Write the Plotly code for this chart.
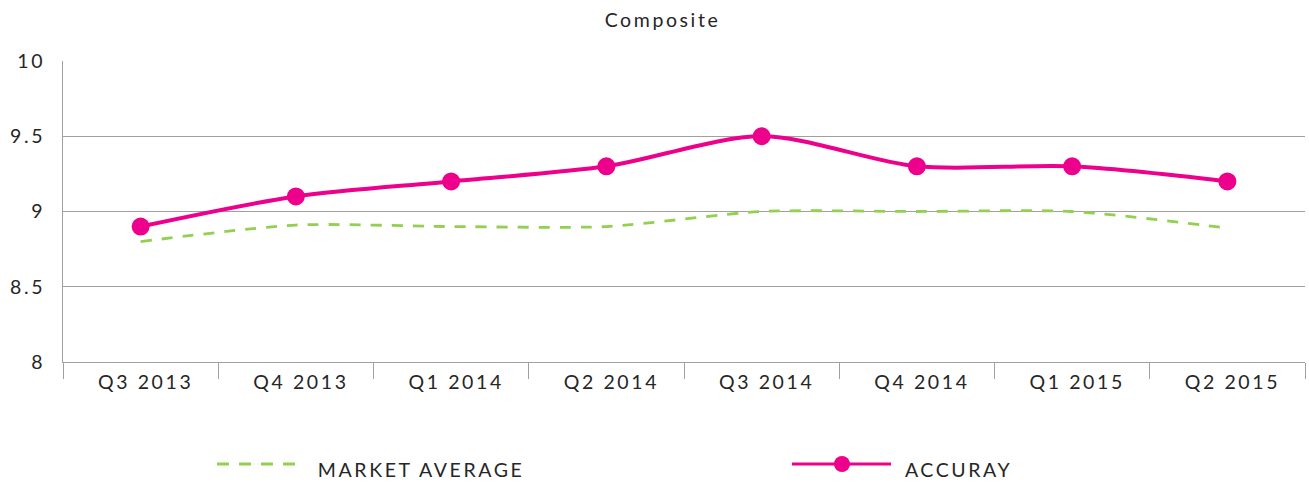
import plotly.graph_objects as go

categories = ["Q3 2013", "Q4 2013", "Q1 2014", "Q2 2014", "Q3 2014", "Q4 2014", "Q1 2015", "Q2 2015"]
market_average = [8.8, 8.91, 8.9, 8.9, 9.0, 9.0, 9.0, 8.89]
accuray = [8.9, 9.1, 9.2, 9.3, 9.5, 9.3, 9.3, 9.2]
y_ticks = [8, 8.5, 9, 9.5, 10]
y_tick_labels = ["8", "8.5", "9", "9.5", "10"]

PINK = "#EC008C"
GREEN = "#92D050"
GRID = "#A0A0A0"
TEXT = "#262626"
FONT = "Lato"

W, H = 1309, 484
L, R, T, B = 63, 4, 61, 122
pw, ph = W - L - R, H - T - B

def px(x):
    return (x - L) / pw

def py(y):
    return (H - B - y) / ph

fig = go.Figure()
fig.add_trace(go.Scatter(
    x=categories, y=market_average, name="MARKET AVERAGE", mode="lines",
    line=dict(color=GREEN, width=2.8, dash="11px,10px", shape="spline", smoothing=0.7),
    showlegend=False, hoverinfo="skip",
))
fig.add_trace(go.Scatter(
    x=categories, y=accuray, name="ACCURAY", mode="lines+markers",
    line=dict(color=PINK, width=4, shape="spline", smoothing=0.85),
    marker=dict(color=PINK, size=18),
    showlegend=False, hoverinfo="skip",
))

# custom legend
fig.add_shape(type="line", xref="paper", yref="paper", x0=px(217), x1=px(296), y0=py(464), y1=py(464),
              line=dict(color=GREEN, width=2.8, dash="12px,10px"))
fig.add_shape(type="line", xref="paper", yref="paper", x0=px(792), x1=px(891), y0=py(464), y1=py(464),
              line=dict(color=PINK, width=3))
fig.add_shape(type="circle", xref="paper", yref="paper",
              x0=px(834), x1=px(850), y0=py(472), y1=py(456),
              fillcolor=PINK, line=dict(color=PINK, width=0))
fig.add_annotation(text="MARKET AVERAGE", xref="paper", yref="paper", x=px(421), y=py(469),
                   xanchor="center", yanchor="middle", showarrow=False,
                   font=dict(family=FONT, size=19.5, color=TEXT))
fig.add_annotation(text="ACCURAY", xref="paper", yref="paper", x=px(959), y=py(469),
                   xanchor="center", yanchor="middle", showarrow=False,
                   font=dict(family=FONT, size=19.5, color=TEXT))

fig.update_layout(
    width=W, height=H,
    margin=dict(l=L, r=R, t=T, b=B, pad=0),
    paper_bgcolor="white", plot_bgcolor="white",
    title=dict(text="Composite", x=662.5 / W, xanchor="center", y=1 - 20 / H, yanchor="middle",
               font=dict(family=FONT, size=19.5, color=TEXT)),
    font=dict(family=FONT, color=TEXT),
    hovermode=False,
)
fig.update_xaxes(
    type="category", range=[-0.5, 7.5],
    showgrid=False, showline=True, linecolor=GRID, linewidth=1,
    ticks="outside", tickson="boundaries", ticklen=16, tickcolor=GRID, tickwidth=1,
    ticklabelstandoff=3, ticklabelshift=5,
    tickfont=dict(family=FONT, size=19.5, color=TEXT),
    zeroline=False, fixedrange=True,
)
fig.update_yaxes(
    range=[8, 10], tickvals=y_ticks, ticktext=y_tick_labels,
    showgrid=True, gridcolor=GRID, gridwidth=1,
    showline=True, linecolor=GRID, linewidth=1,
    ticks="", ticklabelstandoff=13,
    tickfont=dict(family=FONT, size=19.5, color=TEXT),
    zeroline=False, fixedrange=True,
)

post = (
    "var s=document.createElement('style');"
    "s.textContent='html,body{margin:0;padding:0;overflow:hidden}"
    " .main-svg text{letter-spacing:2.6px}';"
    "document.head.appendChild(s);"
)
fig.write_html("out.html", post_script=post, config={"displayModeBar": False, "staticPlot": True})
